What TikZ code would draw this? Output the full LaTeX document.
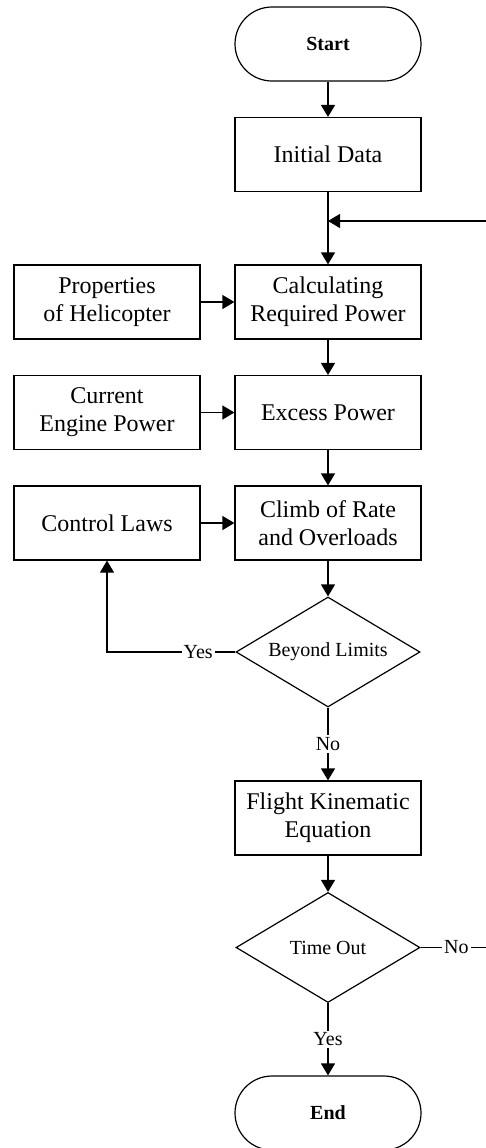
\documentclass[tikz,border=0pt]{standalone}
\usepackage{fontspec}
\setmainfont{Liberation Serif}
\usetikzlibrary{shapes.geometric,arrows.meta}

\tikzset{
	block/.style={draw, line width=0.6pt, minimum width=93pt, minimum height=37pt, inner sep=1pt, align=center, font=\fontsize{12}{14}\selectfont},
	terminal/.style={block, rounded corners=18.5pt, font=\fontsize{10}{12}\selectfont\bfseries},
	decision/.style={draw, diamond, aspect=1.67, line width=0.6pt, minimum width=92pt, minimum height=55pt, inner sep=0pt, font=\fontsize{10}{12}\selectfont},
	flow/.style={line width=0.6pt, -{Triangle[width=7pt,length=6pt]}},
	answer/.style={fill=white, inner sep=1pt, font=\fontsize{10}{12}\selectfont}
}

\begin{document}
\begin{tikzpicture}[x=0.5pt, y=-0.5pt]
		
		\useasboundingbox (0,0) rectangle (486,1148);
		\clip (0,0) rectangle (486,1148);
		
		% Main column
		\node[terminal] (start)   at (328, 44)    {Start};
		\node[block]    (init)    at (328, 154.5) {Initial Data};
		\node[block]    (calc)    at (328, 302)   {Calculating\\Required Power};
		\node[block]    (excess)  at (328, 412.5) {Excess Power};
		\node[block]    (climb)   at (328, 523)   {Climb of Rate\\and Overloads};
		\node[decision] (beyond)  at (328, 652)   {Beyond Limits};
		\node[block]    (flight)  at (328, 818)   {Flight Kinematic\\Equation};
		\node[decision] (timeout) at (328, 947.5) {Time Out};
		\node[terminal] (stop)    at (328, 1113)  {End};
		
		% Inputs
		\node[block] (props)  at (107, 302)   {Properties\\of Helicopter};
		\node[block] (engine) at (107, 412.5) {Current\\Engine Power};
		\node[block] (laws)   at (107, 523)   {Control Laws};
		
		% Loop points
		\coordinate (merge) at (328, 221);
		\coordinate (loopB) at (492, 947.5);
		\coordinate (loopT) at (492, 221);
		
		% Flows
		\draw[flow] (start) -- (init);
		\draw[flow] (init) -- (calc);
		\draw[flow] (calc) -- (excess);
		\draw[flow] (excess) -- (climb);
		\draw[flow] (climb) -- (beyond);
		\draw[flow] (beyond.south) -- node[answer] {No} (flight.north);
		\draw[flow] (flight) -- (timeout);
		\draw[flow] (timeout.south) -- node[answer] {Yes} (stop.north);
		
		\draw[flow] (props) -- (calc);
		\draw[flow] (engine) -- (excess);
		\draw[flow] (laws) -- (climb);
		
		\draw[flow] (beyond.west) -- node[answer, pos=0.29] {Yes} (laws.south |- beyond.west) -- (laws.south);
		\draw[flow] (timeout.east) -- node[answer] {No} (loopB) -- (loopT) -- (merge);
		
	\end{tikzpicture}
\end{document}
